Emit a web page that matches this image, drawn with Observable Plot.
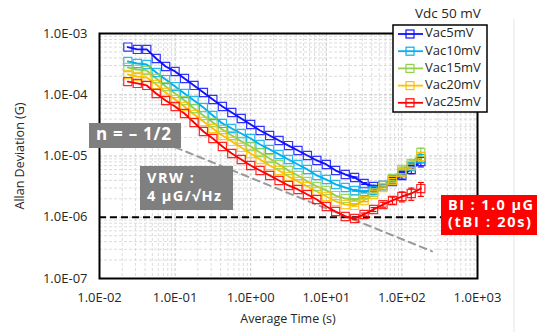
<!DOCTYPE html>
<html><head><meta charset="utf-8">
<script src="https://cdn.jsdelivr.net/npm/d3@7"></script>
<script src="https://cdn.jsdelivr.net/npm/@observablehq/plot@0.6"></script>
<style>
body{margin:0;background:#fff;}
#chart{position:relative;width:537px;height:332px;}
</style></head><body><div id="chart"></div>
<script>
// ---- data ----
const seriesNames = ["Vac5mV","Vac10mV","Vac15mV","Vac20mV","Vac25mV"];
const seriesColors = ["#1010ff","#00b0f0","#92d050","#ffc000","#ff0000"];
const tau = [0.0237,0.0316,0.0422,0.0562,0.075,0.1,0.133,0.178,0.237,0.316,0.422,0.562,0.75,1,1.33,1.78,2.37,3.16,4.22,5.62,7.5,10,13.3,17.8,23.7,31.6,42.2,56.2,75,100,133,178];
const vac5 = [6.0e-4,5.5e-4,5.5e-4,3.91e-4,2.89e-4,2.40e-4,1.84e-4,1.42e-4,1.09e-4,8.36e-5,6.43e-5,5.13e-5,4.09e-5,3.27e-5,2.61e-5,2.16e-5,1.79e-5,1.48e-5,1.23e-5,1.02e-5,8.45e-6,7.27e-6,5.79e-6,4.99e-6,4.46e-6,3.56e-6,3.18e-6,3.30e-6,3.84e-6,4.81e-6,6.03e-6,8.13e-6];
const vac10 = [3.49e-4,3.24e-4,3.12e-4,2.31e-4,1.77e-4,1.36e-4,1.05e-4,8.05e-5,6.19e-5,4.58e-5,3.40e-5,2.81e-5,2.33e-5,1.93e-5,1.54e-5,1.28e-5,1.06e-5,8.77e-6,7.27e-6,6.03e-6,4.81e-6,4.13e-6,3.43e-6,3.06e-6,2.74e-6,2.63e-6,2.74e-6,3.30e-6,4.13e-6,5.38e-6,6.75e-6,9.10e-6];
const vac15 = [2.79e-4,2.58e-4,2.49e-4,1.84e-4,1.36e-4,1.05e-4,8.05e-5,5.97e-5,4.58e-5,3.52e-5,2.71e-5,2.16e-5,1.73e-5,1.43e-5,1.14e-5,9.10e-6,7.27e-6,5.79e-6,4.81e-6,3.84e-6,3.18e-6,2.74e-6,2.26e-6,2.02e-6,1.95e-6,2.10e-6,2.54e-6,3.30e-6,4.30e-6,6.03e-6,7.55e-6,1.14e-5];
const vac20 = [2.14e-4,1.99e-4,1.91e-4,1.47e-4,1.09e-4,8.36e-5,6.43e-5,4.76e-5,3.66e-5,2.81e-5,2.16e-5,1.73e-5,1.38e-5,1.10e-5,8.77e-6,7.00e-6,5.79e-6,4.62e-6,3.84e-6,3.18e-6,2.63e-6,2.18e-6,1.81e-6,1.61e-6,1.56e-6,1.88e-6,2.35e-6,3.06e-6,3.98e-6,5.38e-6,7.00e-6,9.82e-6];
const vac25 = [1.64e-4,1.53e-4,1.42e-4,1.05e-4,8.05e-5,6.43e-5,4.94e-5,3.52e-5,2.51e-5,1.93e-5,1.43e-5,1.10e-5,8.77e-6,7.00e-6,5.79e-6,4.81e-6,3.98e-6,3.30e-6,2.84e-6,2.35e-6,1.95e-6,1.50e-6,1.24e-6,1.03e-6,9.55e-7,1.11e-6,1.34e-6,1.61e-6,1.88e-6,2.18e-6,2.44e-6,2.94e-6];
// error bar half-lengths (0 = not shown)
const err5  = [0,0,0,0,0,0,0,0,0,0,0,0,0,0,0,0,0,0,0,0,0,0,0,0,1.0e-7,1.2e-7,1.5e-7,2.0e-7,3.5e-7,6.0e-7,9.0e-7,1.5e-6];
const err10 = [0,0,0,0,0,0,0,0,0,0,0,0,0,0,0,0,0,0,0,0,0,0,0,0,8e-8,1.0e-7,1.3e-7,2.0e-7,3.0e-7,5.0e-7,8.0e-7,1.4e-6];
const err15 = [0,0,0,0,0,0,0,0,0,0,0,0,0,0,0,0,0,0,0,0,0,0,0,0,6e-8,9e-8,1.3e-7,2.0e-7,3.5e-7,6.0e-7,1.0e-6,2.0e-6];
const err20 = [0,0,0,0,0,0,0,0,0,0,0,0,0,0,0,0,0,0,0,0,0,0,0,0,5e-8,8e-8,1.2e-7,2.0e-7,3.0e-7,5.5e-7,9.0e-7,1.6e-6];
const err25 = [0,0,0,0,0,0,0,0,0,0,0,0,0,0,0,0,0,0,0,0,0,0,0,0,4e-8,6e-8,1.0e-7,1.5e-7,2.5e-7,4.0e-7,5.5e-7,7.5e-7];
const vrwTau = [0.1, 250];
const vrwDev = [1.39e-5, 2.78e-7];
const biLevel = [1e-6];
const xTicks = [0.01,0.1,1,10,100,1000];
const xTickLabels = ["1.0E-02","1.0E-01","1.0E+00","1.0E+01","1.0E+02","1.0E+03"];
const yTicks = [1e-7,1e-6,1e-5,1e-4,1e-3];
const yTickLabels = ["1.0E-07","1.0E-06","1.0E-05","1.0E-04","1.0E-03"];

// ---- build tables ----
const values = [vac5,vac10,vac15,vac20,vac25];
const errs = [err5,err10,err15,err20,err25];
const rows = seriesNames.flatMap((s,si)=>tau.map((t,i)=>({series:s, tau:t, dev:values[si][i], err:errs[si][i]})));
const errRows = rows.filter(d=>d.err>0);
const vrw = vrwTau.map((t,i)=>({tau:t, dev:vrwDev[i]}));
const minorX = xTicks.slice(0,-1).flatMap(d=>[2,3,4,5,6,7,8,9].map(m=>d*m));
const minorY = yTicks.slice(0,-1).flatMap(d=>[2,3,4,5,6,7,8,9].map(m=>d*m));
const capSymbol = {draw(ctx,size){const w=Math.sqrt(size/Math.PI); ctx.moveTo(-w,0); ctx.lineTo(w,0);}};

const FONT = "'Open Sans', sans-serif";
const svg = Plot.plot({
  width:537, height:332,
  marginLeft:99, marginRight:60, marginTop:33, marginBottom:54,
  style:{fontFamily:FONT, fontSize:"13px", color:"#262626", background:"#fff"},
  x:{type:"log", domain:[1e-2,1e3]},
  y:{type:"log", domain:[1e-7,1e-3]},
  color:{domain:seriesNames, range:seriesColors},
  marks:[
    Plot.ruleX(minorX,{stroke:"#dcdcdc", strokeDasharray:"3,2", strokeWidth:1}),
    Plot.ruleY(minorY,{stroke:"#dcdcdc", strokeDasharray:"3,2", strokeWidth:1}),
    Plot.ruleX(xTicks,{stroke:"#c8c8c8", strokeDasharray:"3,2", strokeWidth:1}),
    Plot.ruleY(yTicks,{stroke:"#c8c8c8", strokeDasharray:"3,2", strokeWidth:1}),
    Plot.axisX({ticks:xTicks, tickFormat:d=>xTickLabels[xTicks.indexOf(d)], tickSize:0, tickPadding:14, label:null}),
    Plot.axisY({ticks:yTicks, tickFormat:d=>yTickLabels[yTicks.indexOf(d)], tickSize:0, tickPadding:12, label:null}),
    Plot.line(vrw,{x:"tau", y:"dev", stroke:"#9a9a9a", strokeWidth:2, strokeDasharray:"7,5"}),
    Plot.ruleY(biLevel,{stroke:"#000", strokeWidth:2, strokeDasharray:"7,4"}),
    Plot.line(rows,{x:"tau", y:"dev", z:"series", stroke:"series", strokeWidth:1.9}),
    Plot.ruleX(errRows,{x:"tau", y1:d=>d.dev-d.err, y2:d=>d.dev+d.err, stroke:"series", strokeWidth:1.2}),
    Plot.dot(errRows,{x:"tau", y:d=>d.dev-d.err, symbol:capSymbol, r:3, stroke:"series", strokeWidth:1.2}),
    Plot.dot(errRows,{x:"tau", y:d=>d.dev+d.err, symbol:capSymbol, r:3, stroke:"series", strokeWidth:1.2}),
    Plot.dot(rows,{x:"tau", y:"dev", symbol:"square", r:4.6, stroke:"series", fill:"none", strokeWidth:1.2, strokeOpacity:0.85}),
    Plot.frame({stroke:"#000", strokeWidth:2})
  ]
});
document.getElementById("chart").appendChild(svg);

// ---- overlays: titles, annotations, legend ----
const g = d3.select(svg).append("g").attr("font-family", FONT).attr("text-anchor","start");
g.append("line").attr("x1",514).attr("x2",514).attr("y1",19).attr("y2",332).attr("stroke","#e4e4e4");
g.append("text").attr("x",288).attr("y",320).attr("text-anchor","middle").attr("dominant-baseline","middle")
  .attr("font-size",12.5).attr("fill","#262626").text("Average Time (s)");
g.append("text").attr("transform","translate(21,156) rotate(-90)").attr("text-anchor","middle").attr("dominant-baseline","middle")
  .attr("font-size",12.5).attr("fill","#262626").text("Allan Deviation (G)");

// annotation boxes
function box(x,y,w,h,fill,lines,widths,size,dy,lh){
  g.append("rect").attr("x",x).attr("y",y).attr("width",w).attr("height",h).attr("fill",fill);
  lines.forEach((t,i)=>g.append("text").attr("x",x+7).attr("y",y+dy+i*lh).attr("text-anchor","start").attr("dominant-baseline","middle")
    .attr("font-size",size).attr("font-weight","bold").attr("fill","#fff")
    .attr("textLength",widths[i]).attr("lengthAdjust","spacing").text(t));
}
box(89,123,92,25,"#7f7f7f",["n = \u2013 1/2"],[75],17,12.5,0);
box(140,166,93,44,"#7f7f7f",["VRW :","4 \u00b5G/\u221aHz"],[47,74],14.5,13.5,17.5);
box(441,195,96,40,"#ff0000",["BI : 1.0 \u00b5G","(tBI : 20s)"],[85,83],14.5,11,17.5);

// legend
g.append("text").attr("x",415).attr("y",14).attr("text-anchor","start").attr("dominant-baseline","middle").attr("font-size",13.5).attr("fill","#262626").text("Vdc 50 mV");
g.append("rect").attr("x",393).attr("y",25).attr("width",94).attr("height",87).attr("fill","#fff").attr("stroke","#000").attr("stroke-width",1.5);
seriesNames.forEach((s,i)=>{
  const y = 34 + i*17.2;
  g.append("line").attr("x1",398).attr("x2",423).attr("y1",y).attr("y2",y).attr("stroke",seriesColors[i]).attr("stroke-width",1.8);
  g.append("rect").attr("x",406).attr("y",y-4).attr("width",8).attr("height",8).attr("fill","none").attr("stroke",seriesColors[i]).attr("stroke-width",1.2);
  g.append("text").attr("x",425).attr("y",y).attr("text-anchor","start").attr("dominant-baseline","middle").attr("font-size",13).attr("fill","#262626").text(s);
});
</script></body></html>
